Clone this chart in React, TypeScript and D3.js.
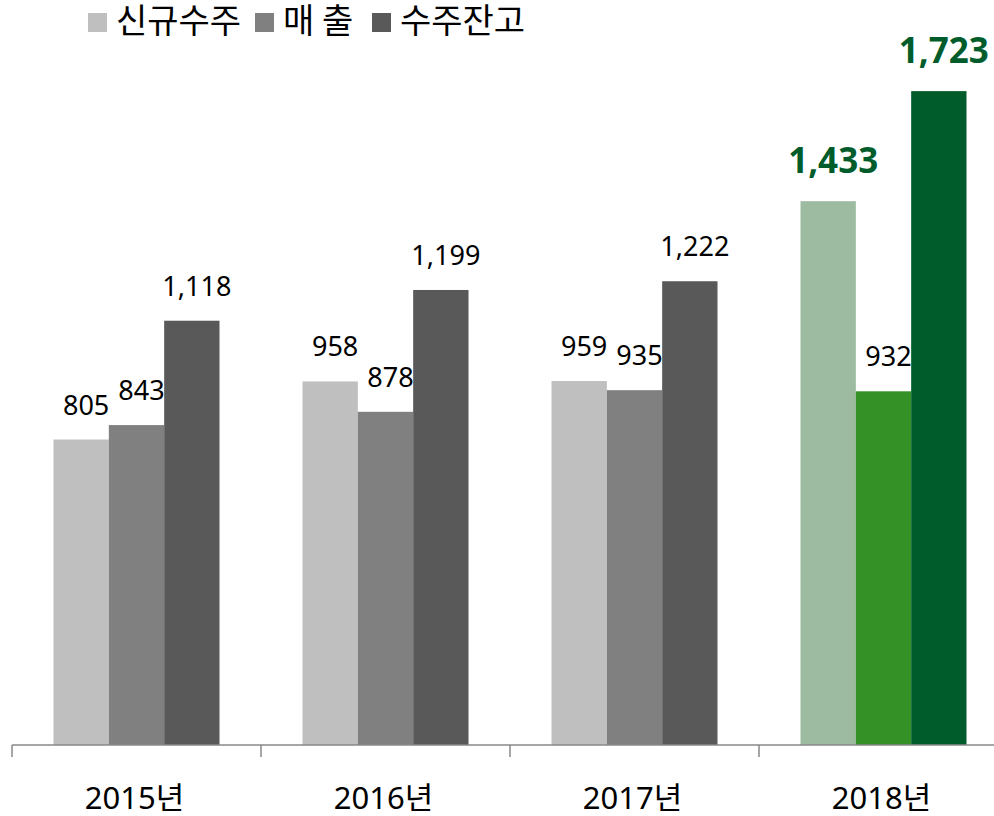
import { useEffect, useRef } from 'react';
import * as d3 from 'd3';

const years = ['2015년', '2016년', '2017년', '2018년'];
const seriesNames = ['신규수주', '매 출', '수주잔고'];
const newOrders = [805, 958, 959, 1433];
const sales = [843, 878, 935, 932];
const backlog = [1118, 1199, 1222, 1723];
const baseColors = ['#bfbfbf', '#808080', '#595959'];
const highlightColors = ['#9dbba1', '#339126', '#005c2b'];
const highlightYear = '2018년';
const boldLabels = ['2018년|0', '2018년|2'];

const width = 994;
const height = 816;

const App = () => {
  const ref = useRef<SVGSVGElement | null>(null);

  useEffect(() => {
    const svg = d3.select(ref.current);
    svg.selectAll('*').remove();

    const values = [newOrders, sales, backlog];
    const rows = years.flatMap((year, i) =>
      seriesNames.map((name, s) => ({ year, s, name, value: values[s][i] }))
    );

    const x = d3.scaleBand().domain(years).range([12, 1008]).paddingInner(0).paddingOuter(0);
    const inner = d3.scaleBand().domain(d3.range(3).map(String)).range([41.5, x.bandwidth() - 41.5]);
    const y = d3.scaleLinear().domain([0, 2000]).range([745, -14]);

    const font = '"Noto Sans", "Noto Sans CJK KR", sans-serif';
    const isBold = (d: { year: string; s: number }) => boldLabels.includes(`${d.year}|${d.s}`);

    const bars = svg.append('g');
    bars.selectAll('rect')
      .data(rows)
      .enter()
      .append('rect')
      .attr('x', d => (x(d.year) as number) + (inner(String(d.s)) as number))
      .attr('width', inner.bandwidth())
      .attr('y', d => y(d.value))
      .attr('height', d => y(0) - y(d.value))
      .attr('fill', d => (d.year === highlightYear ? highlightColors[d.s] : baseColors[d.s]));

    bars.selectAll('text')
      .data(rows)
      .enter()
      .append('text')
      .attr('x', d => (x(d.year) as number) + (inner(String(d.s)) as number) + inner.bandwidth() / 2 + 5)
      .attr('y', d => y(d.value) - (isBold(d) ? 28 : 25))
      .attr('text-anchor', 'middle')
      .attr('font-family', font)
      .attr('font-size', d => (isBold(d) ? 35 : 27))
      .attr('font-weight', d => (isBold(d) ? 'bold' : 'normal'))
      .attr('fill', d => (isBold(d) ? '#005c2b' : '#000'))
      .text(d => d3.format(',')(d.value));

    const axis = svg.append('g').attr('transform', 'translate(0,745)');
    axis.append('line')
      .attr('x1', 12).attr('x2', 1008)
      .attr('stroke', '#898989').attr('stroke-width', 1.5);
    axis.selectAll('.tick')
      .data(years)
      .enter()
      .append('line')
      .attr('x1', d => x(d) as number)
      .attr('x2', d => x(d) as number)
      .attr('y1', 0).attr('y2', 12)
      .attr('stroke', '#898989').attr('stroke-width', 1.5);
    axis.selectAll('text')
      .data(years)
      .enter()
      .append('text')
      .attr('x', d => (x(d) as number) + x.bandwidth() / 2 - 2)
      .attr('y', 64)
      .attr('text-anchor', 'middle')
      .attr('font-family', font)
      .attr('font-size', 31)
      .attr('fill', '#000')
      .text(d => d);

    // legend
    const legendX = [88, 255, 372];
    const legend = svg.append('g');
    seriesNames.forEach((name, s) => {
      legend.append('rect')
        .attr('x', legendX[s]).attr('y', 13)
        .attr('width', 19).attr('height', 19)
        .attr('fill', baseColors[s]);
      legend.append('text')
        .attr('x', legendX[s] + 28).attr('y', 33)
        .attr('font-family', '"Noto Sans CJK KR", sans-serif')
        .attr('font-size', 34)
        .attr('fill', '#000')
        .text(name);
    });
  }, []);

  return (
    <svg
      ref={ref}
      width={width}
      height={height}
      style={{ position: 'absolute', left: 0, top: 0, background: '#fff' }}
    />
  );
};

export default App;
